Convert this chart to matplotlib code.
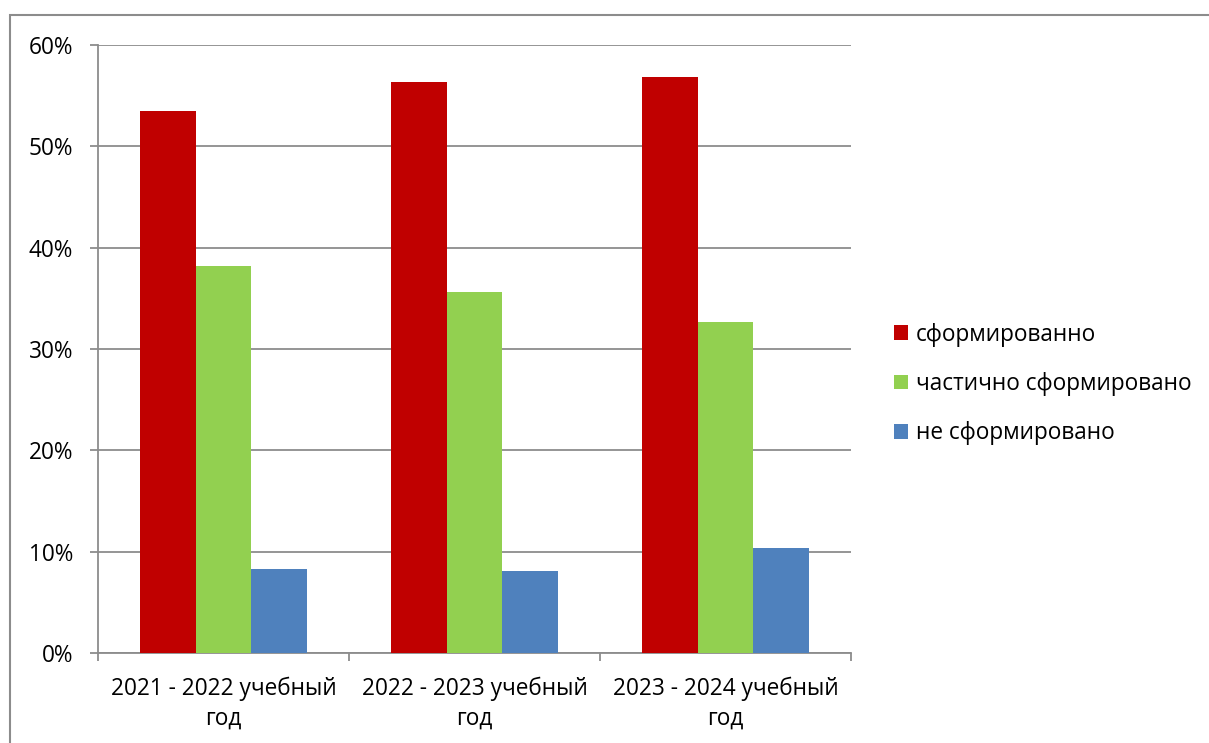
import matplotlib
matplotlib.use('Agg')
import numpy as np
import matplotlib.pyplot as plt
from matplotlib.patches import Rectangle
from matplotlib.ticker import FuncFormatter

plt.rcParams['font.family'] = ['Open Sans', 'DejaVu Sans']

# Data
years = ['2021 - 2022 учебный\nгод', '2022 - 2023 учебный\nгод', '2023 - 2024 учебный\nгод']
formed = [53.5, 56.3, 56.8]
partly = [38.2, 35.6, 32.7]
not_formed = [8.3, 8.1, 10.4]
series_names = ['сформированно', 'частично сформировано', 'не сформировано']
colors = ['#C00000', '#92D050', '#4F81BD']

fig = plt.figure(figsize=(12.09, 7.43), dpi=100)
ax = fig.add_axes([98/1209, 90/743, 753/1209, 608/743])

x = np.arange(len(years))
w = 0.223
for i, (vals, name, c) in enumerate(zip([formed, partly, not_formed], series_names, colors)):
    ax.bar(x + (i - 1) * w, vals, w, color=c, label=name, zorder=3)

ax.set_xlim(-0.5, 2.5)
ax.set_ylim(0, 60)
ax.set_yticks(np.arange(0, 61, 10))
ax.yaxis.set_major_formatter(FuncFormatter(lambda v, p: '%d%%' % v))
ax.grid(axis='y', color='#8c8c8c', linewidth=1.3, zorder=0)

# category boundary ticks on x axis
ax.set_xticks([-0.5, 0.5, 1.5, 2.5])
ax.set_xticklabels([])
ax.set_xticks(x, minor=True)
ax.set_xticklabels(years, minor=True, fontsize=16.3, linespacing=1.3)
ax.tick_params(axis='x', which='minor', length=0, pad=17)
ax.tick_params(axis='x', which='major', length=6, width=1.3, color='#8c8c8c', direction='out')
ax.tick_params(axis='y', length=6, width=1.3, color='#8c8c8c', labelsize=16.3, pad=12)

for s in ['top', 'right']:
    ax.spines[s].set_visible(False)
for s in ['left', 'bottom']:
    ax.spines[s].set_color('#8c8c8c')
    ax.spines[s].set_linewidth(1.3)

leg = fig.legend(loc='center left', bbox_to_anchor=(874/1209, (743-384)/743), frameon=False,
                 fontsize=16.3, handlelength=0.6, handleheight=0.6, handletextpad=0.35,
                 labelspacing=1.12)

# outer chart border
fig.add_artist(Rectangle((10/1209, -0.05), 1.2, (743-15)/743 + 0.05, transform=fig.transFigure,
                         fill=False, edgecolor='#8c8c8c', linewidth=1.5))

fig.savefig('out.png', dpi=100)
